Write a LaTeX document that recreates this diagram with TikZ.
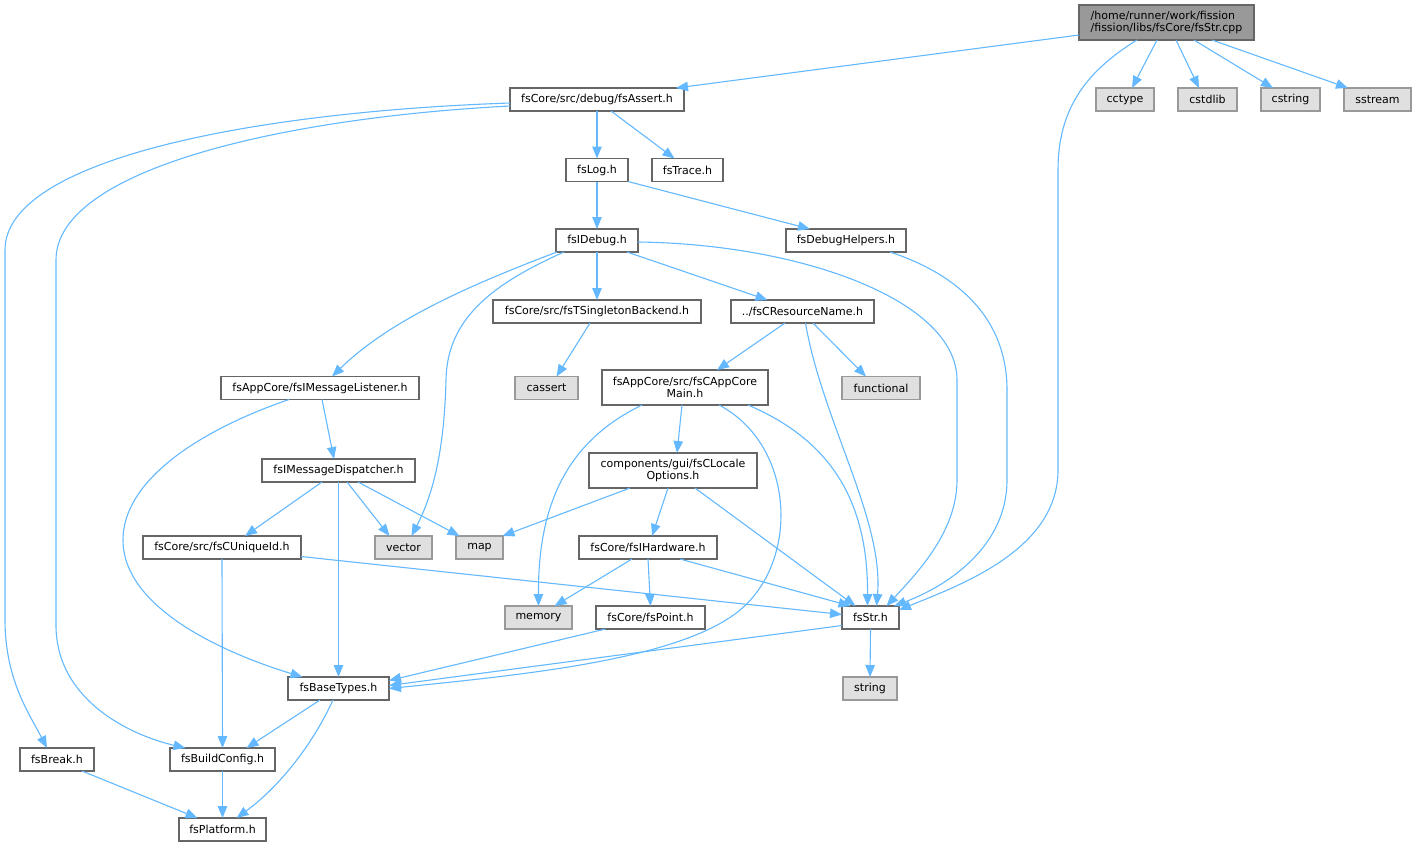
\documentclass[tikz,border=0pt]{standalone}
\usepackage{fontspec}
\setmainfont{DejaVu Sans}
\usetikzlibrary{arrows.meta}
\definecolor{edgeblue}{HTML}{63B8FF}
\definecolor{nodeborder}{HTML}{666666}
\definecolor{extborder}{HTML}{999999}
\definecolor{extfill}{HTML}{E0E0E0}
\definecolor{rootfill}{HTML}{999999}
\begin{document}
\begin{tikzpicture}[x=1pt,y=-1pt,
  base/.style={draw, line width=1.1pt, inner sep=0pt, outer sep=0pt, minimum height=23pt,
    font=\fontsize{11}{12}\selectfont, align=center, text=black},
  hdr/.style={base, draw=nodeborder, fill=white},
  ext/.style={base, draw=extborder, fill=extfill},
  rootbox/.style={base, draw=nodeborder, fill=rootfill, minimum height=35pt},
  twoline/.style={hdr, minimum height=35pt},
  dep/.style={draw=edgeblue, line width=1.1pt, -{Triangle[length=12pt,width=9.5pt]}}
]
\useasboundingbox (0,0) rectangle (1416,847);

% nodes
\node[rootbox, minimum width=175pt, align=left] (root) at (1166.5,22.5) {/home/runner/work/fission\\/fission/libs/fsCore/fsStr.cpp};
\node[hdr, minimum width=174pt] (assert) at (597,99.5) {fsCore/src/debug/fsAssert.h};
\node[ext, minimum width=58pt] (cctype) at (1125,99.5) {cctype};
\node[ext, minimum width=59pt] (cstdlib) at (1207.5,99.5) {cstdlib};
\node[ext, minimum width=59pt] (cstring) at (1290.5,99.5) {cstring};
\node[ext, minimum width=67pt] (sstream) at (1377.5,99.5) {sstream};
\node[hdr, minimum width=62pt] (log) at (597,170) {fsLog.h};
\node[hdr, minimum width=71pt] (trace) at (687.5,170) {fsTrace.h};
\node[hdr, minimum width=82pt] (idebug) at (597,240.5) {fsIDebug.h};
\node[hdr, minimum width=120pt] (dbghelp) at (846,240.5) {fsDebugHelpers.h};
\node[hdr, minimum width=208pt] (singleton) at (597,311.5) {fsCore/src/fsTSingletonBackend.h};
\node[hdr, minimum width=143pt] (resname) at (802.5,311.5) {../fsCResourceName.h};
\node[hdr, minimum width=198pt] (listener) at (320,388) {fsAppCore/fsIMessageListener.h};
\node[ext, minimum width=63pt] (cassert) at (546.5,388) {cassert};
\node[twoline, minimum width=166pt] (appmain) at (685,387.5) {fsAppCore/src/fsCAppCore\\Main.h};
\node[ext, minimum width=78pt] (functional) at (881,388) {functional};
\node[hdr, minimum width=153pt] (dispatcher) at (338.5,470.5) {fsIMessageDispatcher.h};
\node[twoline, minimum width=168pt] (locale) at (673,470.5) {components/gui/fsCLocale\\Options.h};
\node[hdr, minimum width=158pt] (uniqueid) at (222,547.5) {fsCore/src/fsCUniqueId.h};
\node[ext, minimum width=57pt] (vector) at (403.5,547.5) {vector};
\node[ext, minimum width=47pt] (map) at (479.5,547.5) {map};
\node[hdr, minimum width=138pt] (hardware) at (648,547.5) {fsCore/fsIHardware.h};
\node[ext, minimum width=67pt] (memory) at (538.5,617.5) {memory};
\node[hdr, minimum width=109pt] (point) at (650.5,617.5) {fsCore/fsPoint.h};
\node[hdr, minimum width=57pt] (str) at (870.5,617.5) {fsStr.h};
\node[ext, minimum width=54pt] (string) at (870,688.5) {string};
\node[hdr, minimum width=101pt] (basetypes) at (338.5,688.5) {fsBaseTypes.h};
\node[hdr, minimum width=74pt] (break) at (57,759.5) {fsBreak.h};
\node[hdr, minimum width=105pt] (buildcfg) at (222.5,759.5) {fsBuildConfig.h};
\node[hdr, minimum width=87pt] (platform) at (222.5,829.5) {fsPlatform.h};

% edges from root
\draw[dep] ([yshift=-12.5]root.west) -- ([xshift=79]assert.north);
\draw[dep] ([xshift=-9.5]root.south) -- ([xshift=7]cctype.north);
\draw[dep] ([xshift=9.5]root.south) -- ([xshift=-8.5]cstdlib.north);
\draw[dep] ([xshift=27.5]root.south) -- ([xshift=-17.5]cstring.north);
\draw[dep] ([xshift=45.5]root.south) -- ([xshift=-29.5]sstream.north);
\draw[dep] ([xshift=-29.5]root.south) .. controls (1085,72) and (1058,110) .. (1058,170)
  -- (1058,470) .. controls (1058,550) and (960,585) .. ([yshift=-4]str.north east);

% fsAssert
\draw[dep] (assert.south) -- (log.north);
\draw[dep] ([xshift=14]assert.south) -- ([xshift=-13]trace.north);
\draw[dep] ([yshift=-3.5]assert.west) .. controls (250,112) and (5,160) .. (5,250)
  -- (5,620) .. controls (5,680) and (30,715) .. ([xshift=-10]break.north);
\draw[dep] ([yshift=-6.5]assert.west) .. controls (280,118) and (56,170) .. (56,260)
  -- (56,625) .. controls (56,700) and (130,735) .. ([xshift=-37]buildcfg.north);

% fsLog
\draw[dep] (log.south) -- (idebug.north);
\draw[dep] (log.south east) -- ([xshift=-36]dbghelp.north);

% fsIDebug
\draw[dep] ([xshift=-40]idebug.south) .. controls (470,285) and (390,320) .. ([xshift=12]listener.north);
\draw[dep] ([xshift=-33]idebug.south) .. controls (490,285) and (447,320) .. (446,380)
  .. controls (444,460) and (430,500) .. ([xshift=8]vector.north);
\draw[dep] (idebug.south) -- (singleton.north);
\draw[dep] ([xshift=30]idebug.south) -- ([xshift=-35]resname.north);
\draw[dep] ([yshift=-1.5]idebug.east) .. controls (800,244) and (957,300) .. (957,380)
  -- (957,480) .. controls (957,530) and (920,570) .. ([xshift=16]str.north);

% fsDebugHelpers
\draw[dep] ([xshift=44]dbghelp.south) .. controls (960,275) and (1007,320) .. (1007,390)
  -- (1007,480) .. controls (1007,545) and (950,585) .. ([xshift=-5]str.north east);

% singleton
\draw[dep] ([xshift=-7]singleton.south) -- ([xshift=10]cassert.north);

% resource name
\draw[dep] ([xshift=-17.5]resname.south) -- ([xshift=32]appmain.north);
\draw[dep] ([xshift=10.5]resname.south) -- ([xshift=-15]functional.north);
\draw[dep] ([xshift=3]resname.south) .. controls (822,420) and (884,520) .. ([xshift=6]str.north);

% app core main
\draw[dep] ([xshift=-43]appmain.south) .. controls (570,440) and (538,500) .. (memory.north);
\draw[dep] ([xshift=-3]appmain.south) -- ([xshift=4]locale.north);
\draw[dep] ([xshift=34]appmain.south) .. controls (795,445) and (800,560) .. (740,610)
  .. controls (680,660) and (520,675) .. (basetypes.east);
\draw[dep] ([xshift=63]appmain.south) .. controls (830,440) and (868,500) .. ([xshift=-3]str.north);

% locale options
\draw[dep] ([xshift=-43]locale.south) -- ([xshift=23]map.north);
\draw[dep] ([xshift=-5]locale.south) -- ([xshift=4]hardware.north);
\draw[dep] ([xshift=22]locale.south) -- ([xshift=-15]str.north);

% hardware
\draw[dep] ([xshift=-16]hardware.south) -- ([xshift=16]memory.north);
\draw[dep] (hardware.south) -- (point.north);
\draw[dep] ([xshift=32]hardware.south) -- ([xshift=-20]str.north);

% point, str
\draw[dep] ([xshift=-45]point.south) -- ([yshift=8]basetypes.east);
\draw[dep] (str.south) -- (string.north);
\draw[dep] ([yshift=-8]str.west) -- ([yshift=3]basetypes.east);

% listener, dispatcher
\draw[dep] ([xshift=2]listener.south) -- ([xshift=-4.5]dispatcher.north);
\draw[dep] ([xshift=-31]listener.south) .. controls (200,430) and (123,480) .. (123,540)
  .. controls (123,610) and (230,655) .. ([xshift=-36]basetypes.north);
\draw[dep] ([xshift=-16.5]dispatcher.south) -- ([xshift=23]uniqueid.north);
\draw[dep] ([xshift=8.5]dispatcher.south) -- ([xshift=-14]vector.north);
\draw[dep] ([xshift=19.5]dispatcher.south) -- ([xshift=-20]map.north);
\draw[dep] (dispatcher.south) -- (basetypes.north);

% unique id
\draw[dep] (uniqueid.south) -- (buildcfg.north);
\draw[dep] ([yshift=-9]uniqueid.east) -- ([yshift=3]str.west);

% base types, build config, break
\draw[dep] ([xshift=-18.5]basetypes.south) -- ([xshift=24]buildcfg.north);
\draw[dep] ([xshift=-5.5]basetypes.south) .. controls (310,750) and (275,790) .. ([xshift=14]platform.north);
\draw[dep] (buildcfg.south) -- (platform.north);
\draw[dep] ([xshift=25]break.south) -- ([xshift=-25]platform.north);
\end{tikzpicture}
\end{document}
